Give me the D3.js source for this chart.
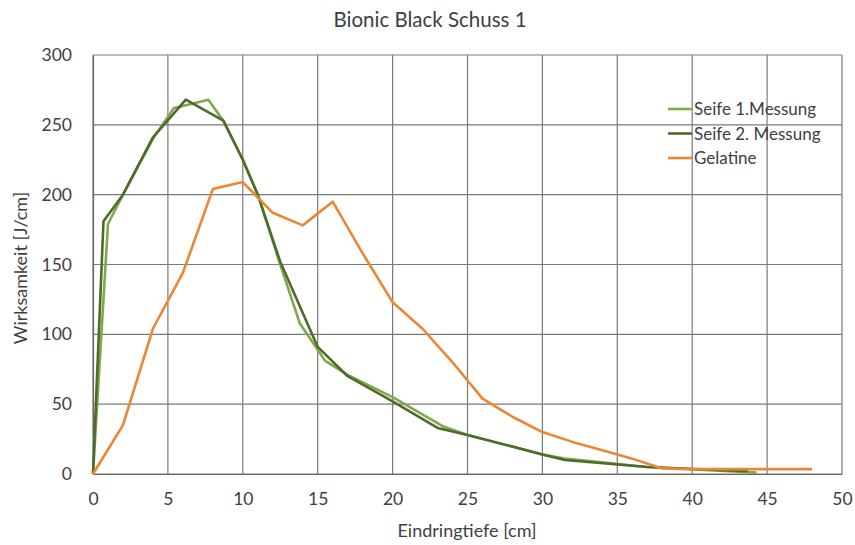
<!DOCTYPE html>
<html><head><meta charset="utf-8">
<script src="https://cdn.jsdelivr.net/npm/d3@7"></script>
<style>
body{margin:0;background:#fff;}
text{font-family:Lato,"Open Sans",sans-serif;fill:#404040;}
</style></head>
<body><svg id="c" width="855" height="545"></svg>
<script>
const title = "Bionic Black Schuss 1";
const xTitle = "Eindringtiefe [cm]";
const yTitle = "Wirksamkeit [J/cm]";
const xTicks = [0,5,10,15,20,25,30,35,40,45,50];
const yTicks = [0,50,100,150,200,250,300];
const seriesNames = ["Seife 1.Messung","Seife 2. Messung","Gelatine"];
const seriesColors = ["#7eaa4a","#4f6b2c","#ec8633"];
const seife1 = [[0,0],[1,179],[2,200],[4,240],[5.4,262],[5.8,263],[7.7,268],[8.7,253],[10,225],[11,200],[12.5,150],[13.8,108],[15.5,81],[17,71],[20,55],[23.4,34],[25,28],[30,14],[31.5,11],[37,5],[44.3,1]];
const seife2 = [[0,0],[0.7,181],[2,200],[4,241],[6.2,268],[8.7,253],[10,225],[11,200],[12.5,152],[13.2,135],[15,91],[17,70],[20,52],[23,33],[25,28],[30,14],[31.5,10],[37,5],[43.7,2]];
const gelatine = [[0,0],[2,35],[4,104],[6,144],[8,204],[10,209],[12,187],[14,178],[16,195],[18,158],[20,123],[22,104],[24,80],[26,54],[28,41],[30,30],[32,23],[34,17],[36,11],[38,4],[40,3.5],[42,3.5],[44,3.5],[46,3.5],[48,3.5]];
const allSeries = [seife1, seife2, gelatine];

const svg = d3.select("#c");
const x = d3.scaleLinear().domain([0,50]).range([93,842]);
const y = d3.scaleLinear().domain([0,300]).range([474,55]);
const FF = "Lato,'Open Sans',sans-serif";

// gridlines
svg.append("g").selectAll("line").data(xTicks).join("line")
  .attr("x1",d=>x(d)).attr("x2",d=>x(d)).attr("y1",y(0)).attr("y2",y(300))
  .attr("stroke","#7a7a7a").attr("stroke-width",1.2);
svg.append("g").selectAll("line").data(yTicks).join("line")
  .attr("x1",x(0)).attr("x2",x(50)).attr("y1",d=>y(d)).attr("y2",d=>y(d))
  .attr("stroke","#7a7a7a").attr("stroke-width",1.2);

// axes
const xa = svg.append("g").attr("transform",`translate(0,${y(0)})`)
  .call(d3.axisBottom(x).tickValues(xTicks).tickSize(0).tickPadding(19));
xa.select(".domain").attr("stroke","#666").attr("stroke-width",1.2);
xa.selectAll("text").attr("font-size",17.5).style("font-family",FF).attr("fill","#404040");
const ya = svg.append("g").attr("transform",`translate(${x(0)},0)`)
  .call(d3.axisLeft(y).tickValues(yTicks).tickSize(0).tickPadding(21));
ya.select(".domain").attr("stroke","#666").attr("stroke-width",1.2);
ya.selectAll("text").attr("font-size",17.5).style("font-family",FF).attr("fill","#404040");

// lines
const line = d3.line().x(d=>x(d[0])).y(d=>y(d[1]));
allSeries.forEach((s,i)=>{
  svg.append("path").datum(s).attr("d",line).attr("fill","none")
    .attr("stroke",seriesColors[i]).attr("stroke-width",2.6)
    .attr("stroke-linejoin","round");
});

// titles
svg.append("text").attr("x",430).attr("y",27).attr("text-anchor","middle")
  .attr("font-size",20.5).text(title);
svg.append("text").attr("x",467).attr("y",537).attr("text-anchor","middle")
  .attr("font-size",18).text(xTitle);
svg.append("text").attr("transform","translate(27,268) rotate(-90)").attr("text-anchor","middle")
  .attr("font-size",18).text(yTitle);

// legend
const lg = svg.append("g");
seriesNames.forEach((n,i)=>{
  const yy = 109 + i*24.5;
  lg.append("line").attr("x1",668).attr("x2",692).attr("y1",yy).attr("y2",yy)
    .attr("stroke",seriesColors[i]).attr("stroke-width",2.6);
  lg.append("text").attr("x",694).attr("y",yy+6).attr("font-size",17).text(n);
});
</script></body></html>
